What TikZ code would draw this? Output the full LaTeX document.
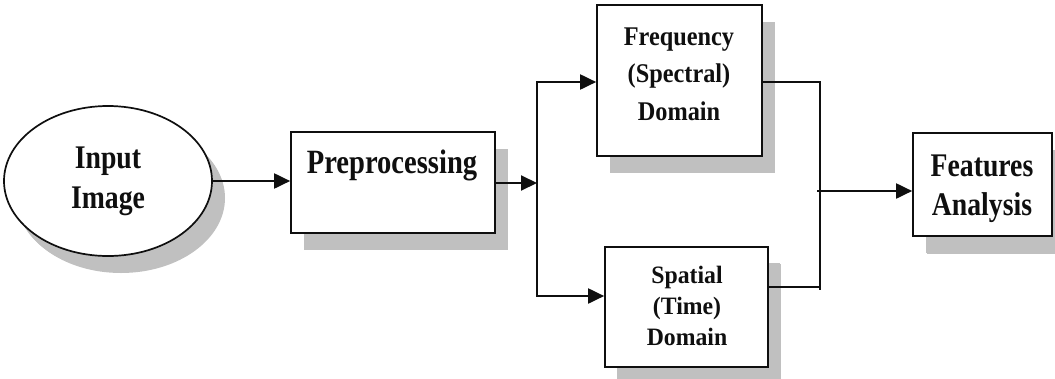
\documentclass[tikz,border=0pt]{standalone}
\usepackage{fontspec}
\setmainfont{Liberation Serif}
\newfontfamily\fA{Liberation Serif}[FakeStretch=0.84]
\newfontfamily\fB{Liberation Serif}[FakeStretch=0.9]
\newfontfamily\fC{Liberation Serif}[FakeStretch=0.95]
\usetikzlibrary{shapes.geometric,shadows,arrows.meta}
\definecolor{shade}{RGB}{192,192,192}
\definecolor{ink}{RGB}{15,15,15}
\tikzset{
  box/.style={draw=ink, line width=1.7pt, fill=white, inner sep=0pt,
    drop shadow={shadow xshift=13pt, shadow yshift=-17pt, fill=shade, opacity=1}},
  lbl/.style={align=center, inner sep=0pt, text=ink},
  con/.style={line width=2pt, draw=ink},
  arr/.style={con, -{Triangle[length=16pt,width=15pt]}}
}
\begin{document}
\begin{tikzpicture}[x=1pt,y=-1pt]
\useasboundingbox (0,0) rectangle (1055,378);
% shapes
\node[box, ellipse, minimum width=208pt, minimum height=150pt,
  drop shadow={shadow xshift=12pt, shadow yshift=-16pt, fill=shade, opacity=1},
  align=center, text=ink, font=\fA\bfseries\fontsize{33}{40}\selectfont] (in) at (108,181) {Input\\Image};
\node[box, minimum width=204pt, minimum height=101pt] (pre) at (393,182.5) {};
\node[box, minimum width=165pt, minimum height=151pt] (freq) at (679.5,80.5) {};
\node[box, minimum width=163pt, minimum height=120pt,
  drop shadow={shadow xshift=12pt, shadow yshift=-16pt, fill=shade, opacity=1}] (spat) at (686.5,307) {};
\node[box, minimum width=139pt, minimum height=103pt,
  drop shadow={shadow xshift=14pt, shadow yshift=-18pt, fill=shade, opacity=1}] (feat) at (982.5,184.5) {};
% labels
\node[lbl, font=\fA\bfseries\fontsize{34}{39}\selectfont] (preT) at (392,165) {Preprocessing};
\node[lbl, font=\fB\bfseries\fontsize{27}{37.5}\selectfont] (freqT) at (679,74) {Frequency\\(Spectral)\\Domain};
\node[lbl, font=\fC\bfseries\fontsize{25}{31}\selectfont] (spatT) at (687,306) {Spatial\\(Time)\\Domain};
\node[lbl, font=\fA\bfseries\fontsize{33}{39}\selectfont] (featT) at (982,188.5) {Features\\Analysis};
% junctions
\coordinate (j) at (537,183);
\coordinate (k) at (820,82);
\coordinate (kb) at (820,290);
\coordinate (m) at (820,191);
% connectors
\draw[arr] (in.east) -- (pre.west |- in.east);
\draw[arr] (pre.east |- j) -- (j);
\draw[arr] (j) |- (freq.west |- k);
\draw[arr] (j) |- ([yshift=11pt]spat.west);
\draw[con] (freq.east |- k) -- (k) -- (kb);
\draw[con] ([yshift=20pt]spat.east) -| (kb);
\draw[arr] ([xshift=-3pt]m) -- (feat.west |- m);
\end{tikzpicture}
\end{document}
